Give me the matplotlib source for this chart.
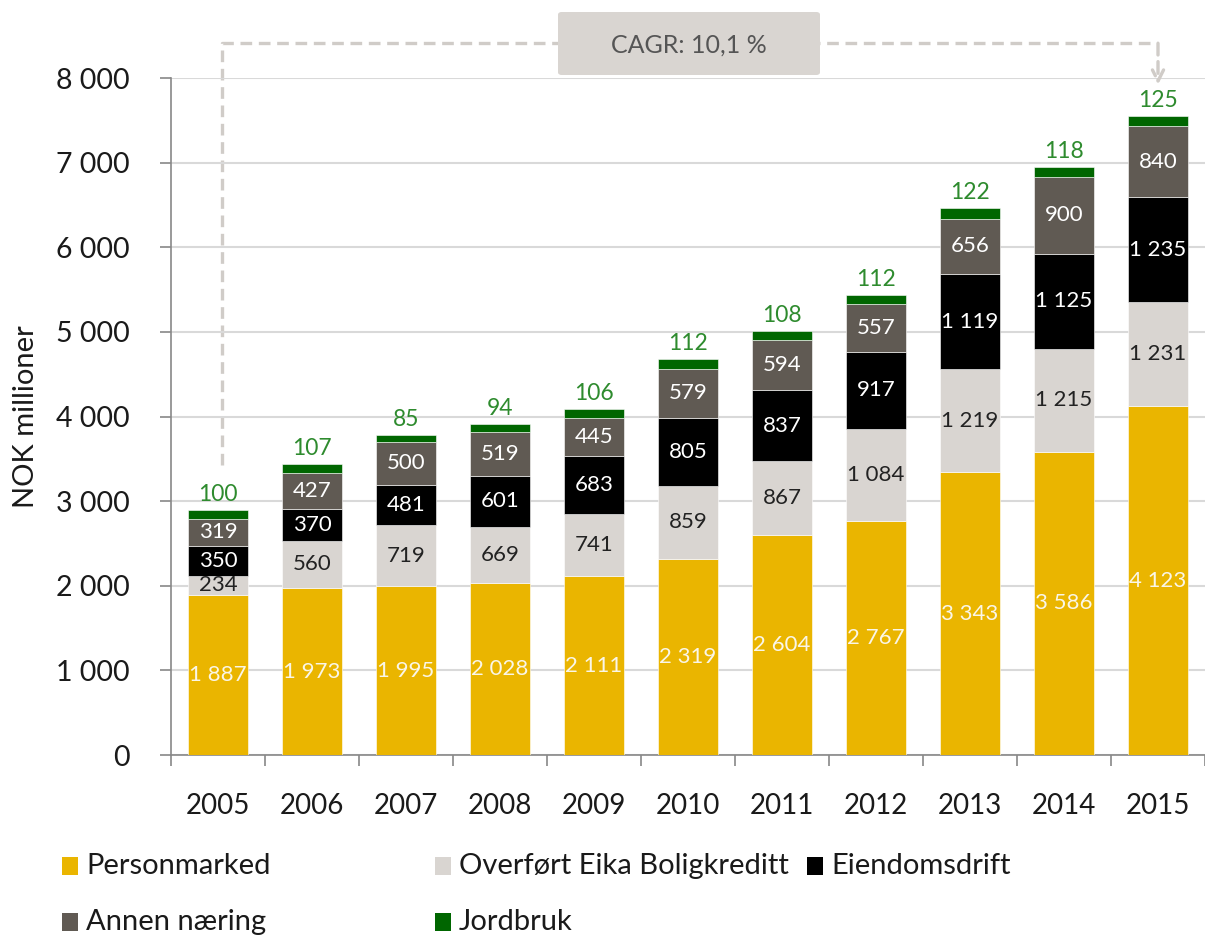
import numpy as np
import matplotlib
matplotlib.use('Agg')
import matplotlib.pyplot as plt
from matplotlib.patches import Rectangle, FancyBboxPatch

plt.rcParams['font.family'] = ['Lato', 'DejaVu Sans']
plt.rcParams['font.weight'] = 'normal'
plt.rcParams['text.color'] = '#1a1a1a'
plt.rcParams['axes.labelcolor'] = '#1a1a1a'
plt.rcParams['xtick.color'] = '#1a1a1a'
plt.rcParams['ytick.color'] = '#1a1a1a'

years = ['2005', '2006', '2007', '2008', '2009', '2010', '2011', '2012', '2013', '2014', '2015']

personmarked = [1887, 1973, 1995, 2028, 2111, 2319, 2604, 2767, 3343, 3586, 4123]
overfort = [234, 560, 719, 669, 741, 859, 867, 1084, 1219, 1215, 1231]
eiendom = [350, 370, 481, 601, 683, 805, 837, 917, 1119, 1125, 1235]
annen = [319, 427, 500, 519, 445, 579, 594, 557, 656, 900, 840]
jordbruk = [100, 107, 85, 94, 106, 112, 108, 112, 122, 118, 125]

series_names = ['Personmarked', 'Overført Eika Boligkreditt', 'Eiendomsdrift', 'Annen næring', 'Jordbruk']
series = [personmarked, overfort, eiendom, annen, jordbruk]
colors = ['#EAB500', '#D9D5D1', '#000000', '#605A53', '#006600']
label_colors = ['#FAF6E8', '#222222', '#FFFFFF', '#FFFFFF', '#2E8B2E']

cagr_text = 'CAGR: 10,1 %'

def fmt(v):
    return '{:,}'.format(v).replace(',', ' ')

fig = plt.figure(figsize=(12.05, 9.4), dpi=100)
ax = fig.add_axes([171/1205, 185/940, 1 - 171/1205, (755-78)/940])

x = np.arange(len(years))
bottom = np.zeros(len(years))
for k in range(len(series)):
    vals = np.array(series[k], dtype=float)
    ax.bar(x, vals, 0.63, bottom=bottom, color=colors[k], edgecolor='white', linewidth=0.4, zorder=3)
    for i in range(len(years)):
        if k == 4:
            ax.text(x[i], bottom[i] + vals[i] + 60, fmt(series[k][i]), ha='center', va='bottom',
                    fontsize=16.5, color=label_colors[k], zorder=4)
        else:
            ax.text(x[i], bottom[i] + vals[i]/2, fmt(series[k][i]), ha='center', va='center',
                    fontsize=16, color=label_colors[k], zorder=4)
    bottom = bottom + vals

ax.set_ylim(0, 8000)
ax.set_xlim(-0.5, 10.42)
ax.set_yticks(np.arange(0, 8001, 1000))
ax.set_yticklabels([fmt(v) for v in range(0, 8001, 1000)], fontsize=20.5)
ax.set_xticks(x)
ax.set_xticklabels(years, fontsize=20)
ax.set_xticks(np.arange(-0.5, 10.6, 1), minor=True)
ax.tick_params(axis='x', which='major', length=0, pad=27)
ax.tick_params(axis='x', which='minor', length=8, color='#888888', width=1.2)
ax.tick_params(axis='y', length=8, color='#888888', width=1.2, pad=22)
ax.grid(axis='y', color='#D9D9D9', linewidth=1.5, zorder=0)
for s in ['top', 'right']:
    ax.spines[s].set_visible(False)
for s in ['left', 'bottom']:
    ax.spines[s].set_color('#888888')
    ax.spines[s].set_linewidth(1.2)
ax.set_ylabel('NOK millioner', fontsize=21, labelpad=12)

# CAGR bracket
dash_col = '#D0CCC8'
y_top = 8410
ax.plot([x[0] + 0.04, x[0] + 0.04, x[-1]], [3430, y_top, y_top], ls=(0, (3.5, 2)), lw=2.4,
        color=dash_col, clip_on=False, zorder=1)
ax.annotate('', xy=(x[-1], 7920), xytext=(x[-1], y_top), xycoords='data',
            arrowprops=dict(arrowstyle='->,head_length=0.8,head_width=0.4', ls=(0, (3.5, 2)),
                            lw=2.4, color=dash_col, shrinkA=0, shrinkB=0),
            annotation_clip=False)
box = FancyBboxPatch((558/1205, (940-75)/940), (820-558)/1205, 63/940,
                     boxstyle='round,pad=0,rounding_size=0.003', transform=fig.transFigure,
                     facecolor='#D9D5D1', edgecolor='none', zorder=1)
fig.patches.append(box)
fig.text(689/1205, (940-45)/940, cagr_text, ha='center', va='center', fontsize=18,
         color='#555555', zorder=10)

# legend
leg_pos = [(62, 866), (435, 866), (807, 866), (62, 922), (435, 922)]
for k in range(len(series_names)):
    px, py = leg_pos[k]
    fig.patches.append(Rectangle((px/1205, (940-py-9)/940), 16/1205, 18/940,
                                 transform=fig.transFigure, facecolor=colors[k], edgecolor='none'))
    fig.text((px+24)/1205, (940-py)/940, series_names[k], ha='left', va='center', fontsize=21)

fig.savefig('out.png', dpi=100)
